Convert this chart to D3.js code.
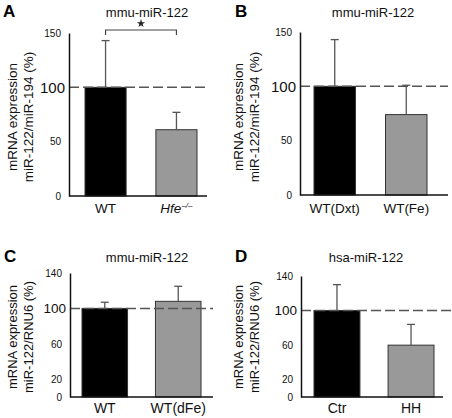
<!DOCTYPE html>
<html>
<head>
<meta charset="utf-8">
<script src="https://cdn.jsdelivr.net/npm/d3@7/dist/d3.min.js"></script>
<style>
  html, body { margin: 0; padding: 0; background: #fff; }
  svg { display: block; font-family: "Liberation Sans", Arial, Helvetica, sans-serif; }
</style>
</head>
<body>
<svg id="chart" width="452" height="418"></svg>
<script>
// ---- data ----
const catsA = ["WT", "Hfe"];
const valsA = [100, 61];
const errsA = [43, 16];
const ticksA = [0, 50, 100, 150];

const catsB = ["WT(Dxt)", "WT(Fe)"];
const valsB = [100, 74];
const errsB = [43, 27];
const ticksB = [0, 50, 100, 150];

const catsC = ["WT", "WT(dFe)"];
const valsC = [100, 108];
const errsC = [7, 17];
const ticksC = [0, 20, 60, 100, 140];

const catsD = ["Ctr", "HH"];
const valsD = [100, 60];
const errsD = [30, 24];
const ticksD = [0, 20, 60, 100, 140];

const titles = ["mmu-miR-122", "mmu-miR-122", "mmu-miR-122", "hsa-miR-122"];
const letters = ["A", "B", "C", "D"];
const ylabelTop = ["miR-122/miR-194 (%)", "miR-122/miR-194 (%)", "miR-122/RNU6 (%)", "miR-122/RNU6 (%)"];
const ylabelMain = "mRNA expression";
const barColors = ["#000000", "#999999"];

const svg = d3.select("#chart");

function panel(p) {
  const g = svg.append("g");
  const y = d3.scaleLinear().domain([0, p.ymax]).range([p.y0, p.ytop]);
  const x = d3.scaleBand().domain(p.cats).range([p.bx0, p.bx1]).paddingInner(p.padIn).paddingOuter(0);

  // bars
  g.selectAll("rect.bar").data(p.vals).enter().append("rect")
    .attr("x", (d, i) => x(p.cats[i]))
    .attr("width", x.bandwidth())
    .attr("y", d => y(d))
    .attr("height", d => y(0) - y(d))
    .attr("fill", (d, i) => barColors[i])
    .attr("stroke", "#333").attr("stroke-width", 1);

  // error bars
  p.vals.forEach((v, i) => {
    const cx = x(p.cats[i]) + x.bandwidth() / 2;
    g.append("line").attr("x1", cx).attr("x2", cx)
      .attr("y1", y(v)).attr("y2", y(v + p.errs[i]))
      .attr("stroke", "#555").attr("stroke-width", 1.3);
    g.append("line").attr("x1", cx - 4).attr("x2", cx + 4)
      .attr("y1", y(v + p.errs[i])).attr("y2", y(v + p.errs[i]))
      .attr("stroke", "#555").attr("stroke-width", 1.3);
  });

  // dashed reference at 100
  g.append("line").attr("x1", p.ax).attr("x2", p.dashEnd)
    .attr("y1", y(100)).attr("y2", y(100))
    .attr("stroke", "#555").attr("stroke-width", 1.5)
    .attr("stroke-dasharray", "10,4");

  // y axis
  const ya = g.append("g").attr("transform", `translate(${p.ax},0)`)
    .call(d3.axisLeft(y).tickValues(p.ticks).tickSize(0).tickPadding(8).tickFormat(d3.format("d")));
  ya.select(".domain").attr("stroke", "#111").attr("stroke-width", 1.5);
  ya.selectAll(".tick text")
    .attr("font-family", "Liberation Sans, Arial, sans-serif")
    .attr("fill", "#111")
    .attr("font-size", d => d === 100 ? p.bigTick : 10)
    .attr("dx", d => d === 100 ? 4 : 0);

  // x axis baseline
  g.append("line").attr("x1", p.ax).attr("x2", p.axEnd)
    .attr("y1", y(0)).attr("y2", y(0))
    .attr("stroke", "#111").attr("stroke-width", 1.5);

  // x labels
  p.cats.forEach((c, i) => {
    const cx = x(c) + x.bandwidth() / 2;
    const t = g.append("text").attr("x", cx).attr("y", p.xlabY)
      .attr("text-anchor", "middle").attr("font-size", p.xFont).attr("fill", "#111");
    if (c === "Hfe") {
      t.append("tspan").attr("font-style", "italic").text("Hfe");
      t.append("tspan").attr("font-style", "italic").attr("font-size", 8).attr("dy", -5).text("–/–");
    } else {
      t.text(c);
    }
  });

  // title & letter
  g.append("text").attr("x", p.titleX).attr("y", p.titleY).attr("text-anchor", "middle")
    .attr("font-size", 13).attr("fill", "#111").text(p.title);
  g.append("text").attr("x", p.letterX).attr("y", p.titleY).attr("font-size", 17)
    .attr("font-weight", "bold").attr("fill", "#000").text(p.letter);

  // y label
  const yl = g.append("text").attr("transform", `translate(${p.ylabX},${p.ylabY}) rotate(-90)`)
    .attr("text-anchor", "middle").attr("font-size", p.ylFont).attr("fill", "#111");
  yl.append("tspan").attr("x", 0).attr("y", 0).text(ylabelMain);
  yl.append("tspan").attr("x", 0).attr("y", p.ylGap).text(p.ylab2);

  return { x, y, g };
}

const A = panel({ cats: catsA, vals: valsA, errs: errsA, ticks: ticksA, ymax: 150, y0: 196, ytop: 33,
  ax: 69, axEnd: 207, dashEnd: 207, bx0: 85, bx1: 197, padIn: 0.42, bigTick: 15,
  xlabY: 213, xFont: 13.5, title: titles[0], titleX: 147, titleY: 17, letter: letters[0], letterX: 3,
  ylabX: 17, ylabY: 117, ylGap: 16, ylFont: 13.5, ylab2: ylabelTop[0] });

// significance bracket on panel A (asterisk drawn as a star symbol)
{
  const cx1 = A.x(catsA[0]) + A.x.bandwidth() / 2;
  const cx2 = A.x(catsA[1]) + A.x.bandwidth() / 2;
  A.g.append("path").attr("d", `M${cx1},35V30H${cx2}V35`).attr("fill", "none")
    .attr("stroke", "#444").attr("stroke-width", 1.2);
  A.g.append("path").attr("d", d3.symbol(d3.symbolStar, 22)())
    .attr("transform", `translate(${(cx1 + cx2) / 2},23.5)`)
    .attr("fill", "#222");
}

panel({ cats: catsB, vals: valsB, errs: errsB, ticks: ticksB, ymax: 150, y0: 195, ytop: 32,
  ax: 300, axEnd: 448, dashEnd: 448, bx0: 314, bx1: 427, padIn: 0.42, bigTick: 15,
  xlabY: 213, xFont: 13.5, title: titles[1], titleX: 373, titleY: 17, letter: letters[1], letterX: 235,
  ylabX: 243, ylabY: 117, ylGap: 16, ylFont: 13.5, ylab2: ylabelTop[1] });

panel({ cats: catsC, vals: valsC, errs: errsC, ticks: ticksC, ymax: 140, y0: 397, ytop: 273,
  ax: 70, axEnd: 213, dashEnd: 213, bx0: 82, bx1: 201, padIn: 0.38, bigTick: 13.5,
  xlabY: 413, xFont: 14, title: titles[2], titleX: 147, titleY: 262, letter: letters[2], letterX: 4,
  ylabX: 17, ylabY: 337, ylGap: 16, ylFont: 13, ylab2: ylabelTop[2] });

panel({ cats: catsD, vals: valsD, errs: errsD, ticks: ticksD, ymax: 140, y0: 397, ytop: 276,
  ax: 301, axEnd: 443, dashEnd: 452, bx0: 314, bx1: 434, padIn: 0.38, bigTick: 13.5,
  xlabY: 413, xFont: 14, title: titles[3], titleX: 366, titleY: 262, letter: letters[3], letterX: 235,
  ylabX: 243, ylabY: 337, ylGap: 16, ylFont: 13, ylab2: ylabelTop[3] });
</script>
</body>
</html>
